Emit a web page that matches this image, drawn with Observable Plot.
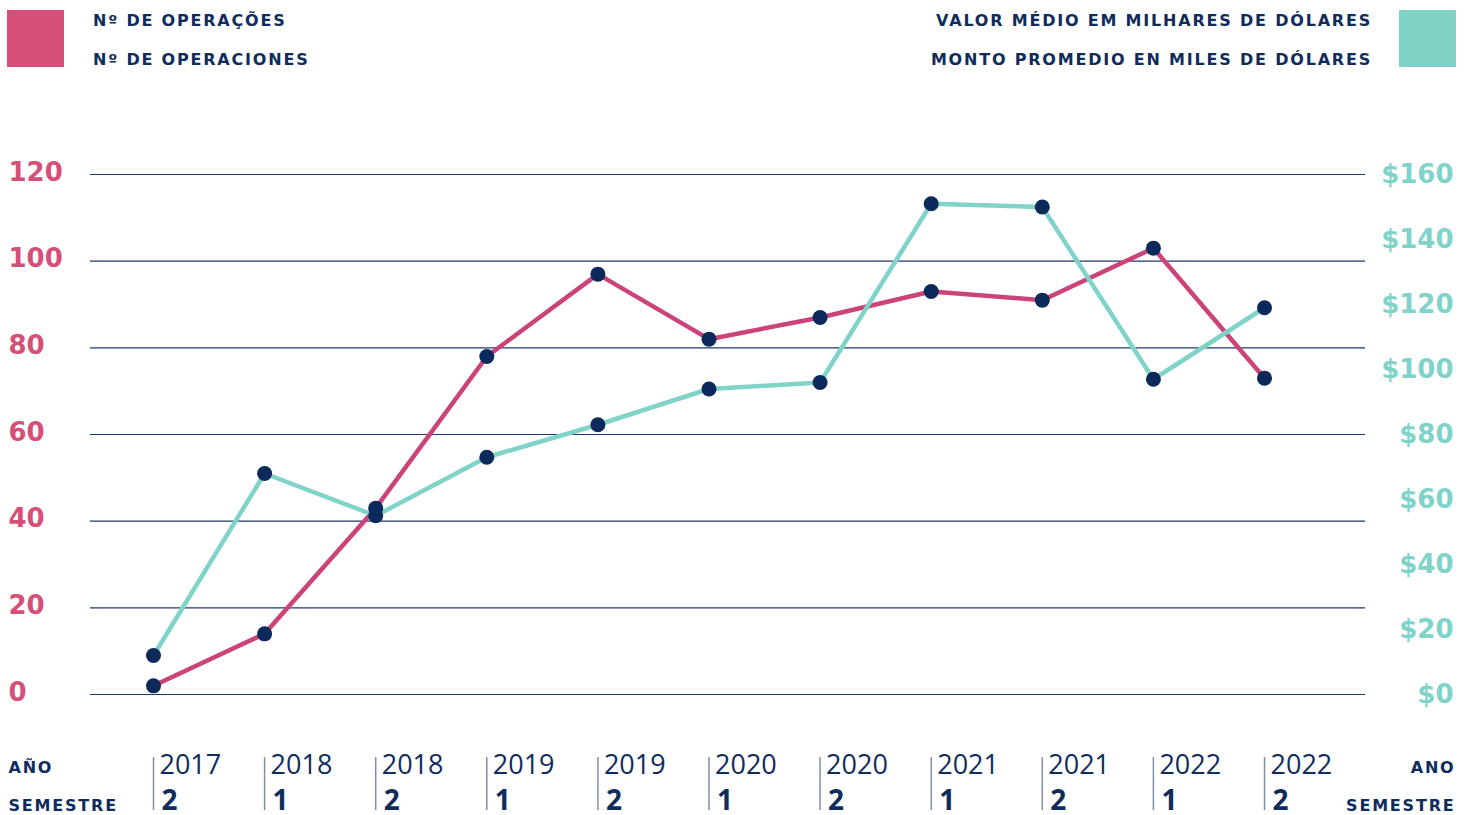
<!DOCTYPE html>
<html><head><meta charset="utf-8">
<script src="https://cdn.jsdelivr.net/npm/d3@7"></script>
<script src="https://cdn.jsdelivr.net/npm/@observablehq/plot@0.6"></script>
<style>
body{margin:0;background:#fff;font-family:"DejaVu Sans",sans-serif;}
#legend{position:relative;height:90px;width:1472px;}
.sw{position:absolute;top:10px;width:57px;height:57px;}
.lt{position:absolute;font-weight:bold;font-size:16px;line-height:18px;letter-spacing:1.8px;color:#0f2c5c;white-space:nowrap;}
#chart svg{display:block;}
</style></head><body>
<div id="legend">
  <div class="sw" style="left:7px;background:#d64f78"></div>
  <div class="lt" style="left:93px;top:12px">Nº DE OPERAÇÕES</div>
  <div class="lt" style="left:93px;top:51px">Nº DE OPERACIONES</div>
  <div class="lt" style="right:100px;top:12px">VALOR MÉDIO EM MILHARES DE DÓLARES</div>
  <div class="lt" style="right:100px;top:51px">MONTO PROMEDIO EN MILES DE DÓLARES</div>
  <div class="sw" style="left:1399px;background:#80d1c6"></div>
</div>
<div id="chart"></div>
<script>
const anos = ["2017","2018","2018","2019","2019","2020","2020","2021","2021","2022","2022"];
const semestres = ["2","1","2","1","2","1","2","1","2","1","2"];
const operacoes = [2, 14, 43, 78, 97, 82, 87, 93, 91, 103, 73];
const valorMedio = [12, 68, 55, 73, 83, 94, 96, 151, 150, 97, 119];
const leftTicks = [0, 20, 40, 60, 80, 100, 120];
const rightTicks = [0, 20, 40, 60, 80, 100, 120, 140, 160];

const k = 120 / 160;
const rows = anos.map((a, i) => ({i, ano: a, sem: semestres[i], op: operacoes[i], val: valorMedio[i], valS: valorMedio[i] * k}));

const navy = "#0f2c5c";
const chart = Plot.plot({
  width: 1472, height: 725,
  marginLeft: 90, marginRight: 107, marginTop: 84, marginBottom: 121,
  style: {background: "transparent", fontFamily: "DejaVu Sans", overflow: "visible"},
  x: {type: "linear", domain: [-0.567, 10.909], axis: null},
  y: {domain: [0, 120], axis: null},
  marks: [
    Plot.ruleY(leftTicks, {stroke: "#1d3a6b", strokeWidth: 1.2}),
    Plot.axisY(leftTicks, {anchor: "left", tickSize: 0, tickPadding: 0, textAnchor: "start", dx: -82, dy: -2, fill: "#d64f78", fontSize: 26, fontWeight: "bold"}),
    Plot.axisY(rightTicks.map(v => v * k), {anchor: "right", tickSize: 0, tickPadding: 0, textAnchor: "end", dx: 88, fill: "#80d3c8", fontSize: 26, fontWeight: "bold", tickFormat: d => "$" + Math.round(d / k)}),
    Plot.line(rows, {x: "i", y: "op", stroke: "#cc437a", strokeWidth: 4.5}),
    Plot.line(rows, {x: "i", y: "valS", stroke: "#80d3c8", strokeWidth: 4.5}),
    Plot.dot(rows, {x: "i", y: "op", r: 7.5, fill: "#0b2a5b"}),
    Plot.dot(rows, {x: "i", y: "valS", r: 7.5, fill: "#0b2a5b"}),
    Plot.axisX(rows.map(d => d.i), {anchor: "bottom", label: null, tickSize: 53, dy: 63, tickFormat: () => "", stroke: "#7f8fa8", strokeWidth: 1.5}),
    Plot.text(rows, {x: "i", text: "ano", frameAnchor: "bottom", dy: 79, dx: 6, textAnchor: "start", fontSize: 27, fill: navy, fontFamily: "Open Sans"}),
    Plot.text(rows, {x: "i", text: "sem", frameAnchor: "bottom", dy: 115, dx: 8, textAnchor: "start", fontSize: 28, fontWeight: "bold", fill: navy, fontFamily: "Open Sans"}),
    Plot.text(["AÑO"], {frameAnchor: "bottom-left", dx: -82, dy: 78, textAnchor: "start", fontSize: 16, fontWeight: "bold", fill: navy}),
    Plot.text(["SEMESTRE"], {frameAnchor: "bottom-left", dx: -82, dy: 116, textAnchor: "start", fontSize: 16, fontWeight: "bold", fill: navy}),
    Plot.text(["ANO"], {frameAnchor: "bottom-right", dx: 90, dy: 78, textAnchor: "end", fontSize: 16, fontWeight: "bold", fill: navy}),
    Plot.text(["SEMESTRE"], {frameAnchor: "bottom-right", dx: 90, dy: 116, textAnchor: "end", fontSize: 16, fontWeight: "bold", fill: navy})
  ]
});
d3.select(chart).selectAll("text").filter(function() {
  return ["AÑO", "ANO", "SEMESTRE"].includes(this.textContent);
}).attr("letter-spacing", "1.8px");
document.getElementById("chart").appendChild(chart);
</script>
</body></html>
